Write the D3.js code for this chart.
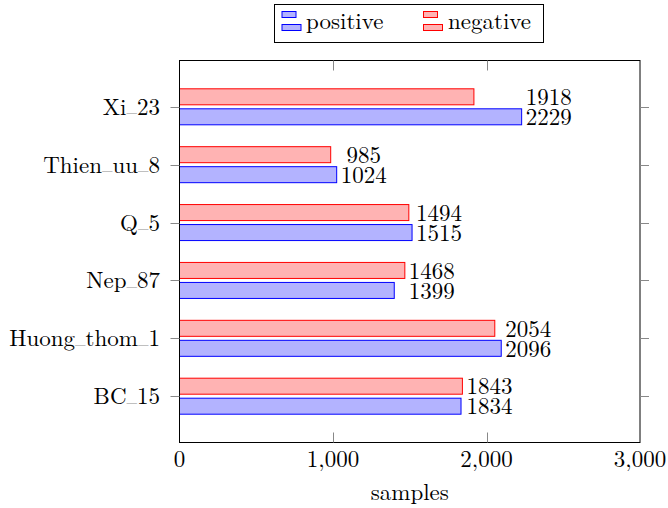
<!DOCTYPE html>
<html>
<head>
<meta charset="utf-8">
<script src="https://cdn.jsdelivr.net/npm/d3@7"></script>
<style>
  body { margin: 0; background: #fff; }
  svg text { font-family: "Latin Modern Roman", "CMU Serif", "Liberation Serif", serif; font-size: 23px; fill: #000; }
</style>
</head>
<body>
<svg id="chart"></svg>
<script>
// ── data ────────────────────────────────────────────────
const categories = ['BC_15', 'Huong_thom_1', 'Nep_87', 'Q_5', 'Thien_uu_8', 'Xi_23'];
const positive   = [1834, 2096, 1399, 1515, 1024, 2229];
const negative   = [1843, 2054, 1468, 1494, 985, 1918];
const xTicks     = [0, 1000, 2000, 3000];
const xLabel     = 'samples';
const seriesNames = ['positive', 'negative'];

const W = 668, H = 508;
const plot = { left: 179.5, right: 640, top: 60.5, bottom: 442.5 };
const BLUE = { fill: '#b3b3ff', stroke: '#0000ff' };
const RED  = { fill: '#ffb3b3', stroke: '#ff0000' };

const svg = d3.select('#chart').attr('width', W).attr('height', H);

const x = d3.scaleLinear().domain([0, 3000]).range([plot.left, plot.right]);
const y = d3.scalePoint().domain(categories).range([plot.bottom, plot.top]).padding(0.8);

const barH = 16, shift = 10;

// TeX-ish underscore: short rule sitting on the baseline
function texLabel(sel, str) {
  const parts = str.split('_');
  parts.forEach((p, i) => {
    if (i > 0) {
      sel.append('tspan').attr('font-size', '14px').attr('dy', -2.5).text('_');
      sel.append('tspan').attr('dy', 2.5).text(p);
    } else {
      sel.append('tspan').text(p);
    }
  });
}

// ── bars ────────────────────────────────────────────────
const bars = svg.append('g');
categories.forEach((c, i) => {
  const cy = y(c);
  bars.append('rect')
    .attr('x', x(0)).attr('y', cy - shift - barH / 2)
    .attr('width', x(negative[i]) - x(0)).attr('height', barH)
    .attr('fill', RED.fill).attr('stroke', RED.stroke).attr('stroke-width', 1);
  bars.append('rect')
    .attr('x', x(0)).attr('y', cy + shift - barH / 2)
    .attr('width', x(positive[i]) - x(0)).attr('height', barH)
    .attr('fill', BLUE.fill).attr('stroke', BLUE.stroke).attr('stroke-width', 1);
});

// ── value labels (pair centred together past the longer bar) ──
const labels = svg.append('g');
categories.forEach((c, i) => {
  const cy = y(c);
  const tNeg = labels.append('text').attr('text-anchor', 'middle')
    .attr('y', cy - shift).attr('dy', '0.36em').text(negative[i]);
  const tPos = labels.append('text').attr('text-anchor', 'middle')
    .attr('y', cy + shift).attr('dy', '0.36em').text(positive[i]);
  const wMax = Math.max(tNeg.node().getComputedTextLength(), tPos.node().getComputedTextLength());
  const cx = x(Math.max(negative[i], positive[i])) + 4 + wMax / 2;
  tNeg.attr('x', cx);
  tPos.attr('x', cx);
});

// ── axes frame + ticks ──────────────────────────────────
const axisG = svg.append('g');
axisG.append('rect')
  .attr('x', plot.left).attr('y', plot.top)
  .attr('width', plot.right - plot.left).attr('height', plot.bottom - plot.top)
  .attr('fill', 'none').attr('stroke', '#000').attr('stroke-width', 1);

xTicks.forEach(t => {
  const tx = Math.round(x(t)) + 0.5;
  if (t > 0 && t < 3000) {
    axisG.append('line').attr('x1', tx).attr('x2', tx)
      .attr('y1', plot.bottom).attr('y2', plot.bottom - 10)
      .attr('stroke', '#888').attr('stroke-width', 1);
    axisG.append('line').attr('x1', tx).attr('x2', tx)
      .attr('y1', plot.top).attr('y2', plot.top + 10)
      .attr('stroke', '#888').attr('stroke-width', 1);
  }
  axisG.append('text')
    .attr('x', x(t)).attr('y', 467)
    .attr('text-anchor', 'middle')
    .text(d3.format(',')(t));
});

categories.forEach(c => {
  const ty = Math.round(y(c)) + 0.5;
  axisG.append('line').attr('x1', plot.left - 9).attr('x2', plot.left)
    .attr('y1', ty).attr('y2', ty).attr('stroke', '#888').attr('stroke-width', 1);
  axisG.append('line').attr('x1', plot.right).attr('x2', plot.right + 9)
    .attr('y1', ty).attr('y2', ty).attr('stroke', '#888').attr('stroke-width', 1);
  const lab = axisG.append('text')
    .attr('x', 160).attr('y', y(c) + 8)
    .attr('text-anchor', 'end');
  texLabel(lab, c);
});

svg.append('text')
  .attr('x', (plot.left + plot.right) / 2).attr('y', 500)
  .attr('text-anchor', 'middle')
  .text(xLabel);

// ── legend ──────────────────────────────────────────────
const legend = svg.append('g');
legend.append('rect')
  .attr('x', 274.5).attr('y', 4.5).attr('width', 269).attr('height', 38)
  .attr('fill', '#fff').attr('stroke', '#000').attr('stroke-width', 1);

[[BLUE, 282, 306], [RED, 423.5, 448]].forEach(([col, sx, tx], k) => {
  legend.append('rect').attr('x', sx).attr('y', 11.5).attr('width', 14).attr('height', 6)
    .attr('fill', col.fill).attr('stroke', col.stroke).attr('stroke-width', 1);
  legend.append('rect').attr('x', sx).attr('y', 24.5).attr('width', 19).attr('height', 6)
    .attr('fill', col.fill).attr('stroke', col.stroke).attr('stroke-width', 1);
  legend.append('text').attr('x', tx).attr('y', 28.5).text(seriesNames[k]);
});
</script>
</body>
</html>
